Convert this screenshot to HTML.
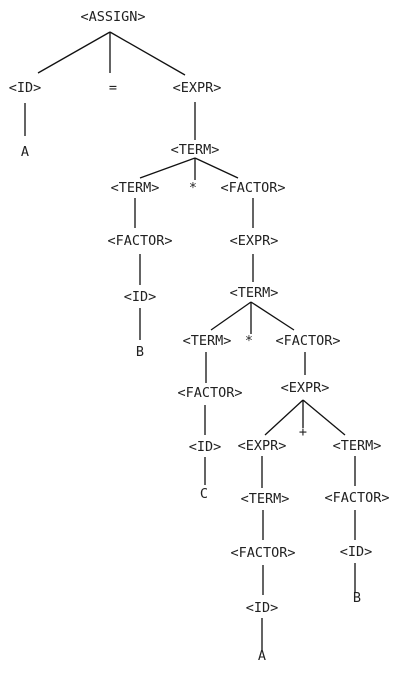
<!DOCTYPE html>
<html><head><style>body{margin:0;background:#fff}</style></head><body>
<svg width="402" height="669" xmlns="http://www.w3.org/2000/svg" font-family="DejaVu Sans Mono, Liberation Mono, monospace" font-size="13.5" fill="#222">
<g stroke="#111" stroke-width="1.3" fill="none">
<line x1="110" y1="32" x2="38" y2="73"/><line x1="110" y1="32" x2="110" y2="73"/><line x1="110" y1="32" x2="185" y2="75"/>
<line x1="25" y1="103" x2="25" y2="136"/>
<line x1="195" y1="102" x2="195" y2="140"/>
<line x1="195" y1="158" x2="140" y2="178"/><line x1="195" y1="158" x2="195" y2="180"/><line x1="195" y1="158" x2="238" y2="178"/>
<line x1="135" y1="198" x2="135" y2="228"/><line x1="140" y1="254" x2="140" y2="285"/><line x1="140" y1="308" x2="140" y2="340"/>
<line x1="253" y1="198" x2="253" y2="228"/><line x1="253" y1="254" x2="253" y2="282"/>
<line x1="251" y1="302" x2="211" y2="330"/><line x1="251" y1="302" x2="251" y2="334"/><line x1="251" y1="302" x2="294" y2="330"/>
<line x1="206" y1="352" x2="206" y2="383"/><line x1="205" y1="405" x2="205" y2="435"/><line x1="205" y1="457" x2="205" y2="485"/>
<line x1="305" y1="352" x2="305" y2="375"/>
<line x1="303" y1="400" x2="265" y2="435"/><line x1="303" y1="400" x2="303" y2="428"/><line x1="303" y1="400" x2="345" y2="435"/>
<line x1="262" y1="456" x2="262" y2="488"/><line x1="263" y1="510" x2="263" y2="540"/><line x1="263" y1="565" x2="263" y2="595"/><line x1="262" y1="618" x2="262" y2="650"/>
<line x1="355" y1="456" x2="355" y2="486"/><line x1="355" y1="510" x2="355" y2="540"/><line x1="355" y1="563" x2="355" y2="593"/>
</g>
<g text-anchor="middle" dominant-baseline="middle">
<text x="113" y="17">&lt;ASSIGN&gt;</text>
<text x="25" y="88">&lt;ID&gt;</text><text x="113" y="88">=</text><text x="197" y="88">&lt;EXPR&gt;</text>
<text x="25" y="152">A</text>
<text x="195" y="150">&lt;TERM&gt;</text>
<text x="135" y="188">&lt;TERM&gt;</text><text x="193" y="188">*</text><text x="253" y="188">&lt;FACTOR&gt;</text>
<text x="140" y="241">&lt;FACTOR&gt;</text><text x="140" y="297">&lt;ID&gt;</text><text x="140" y="352">B</text>
<text x="254" y="241">&lt;EXPR&gt;</text><text x="254" y="293">&lt;TERM&gt;</text>
<text x="207" y="341">&lt;TERM&gt;</text><text x="249" y="341">*</text><text x="308" y="341">&lt;FACTOR&gt;</text>
<text x="210" y="393">&lt;FACTOR&gt;</text><text x="205" y="447">&lt;ID&gt;</text><text x="204" y="494">C</text>
<text x="305" y="388">&lt;EXPR&gt;</text><text x="303" y="432">+</text>
<text x="262" y="446">&lt;EXPR&gt;</text><text x="357" y="446">&lt;TERM&gt;</text>
<text x="265" y="499">&lt;TERM&gt;</text><text x="263" y="553">&lt;FACTOR&gt;</text><text x="262" y="608">&lt;ID&gt;</text><text x="262" y="656">A</text>
<text x="357" y="498">&lt;FACTOR&gt;</text><text x="356" y="552">&lt;ID&gt;</text><text x="357" y="598">B</text>
</g>
</svg>
</body></html>
